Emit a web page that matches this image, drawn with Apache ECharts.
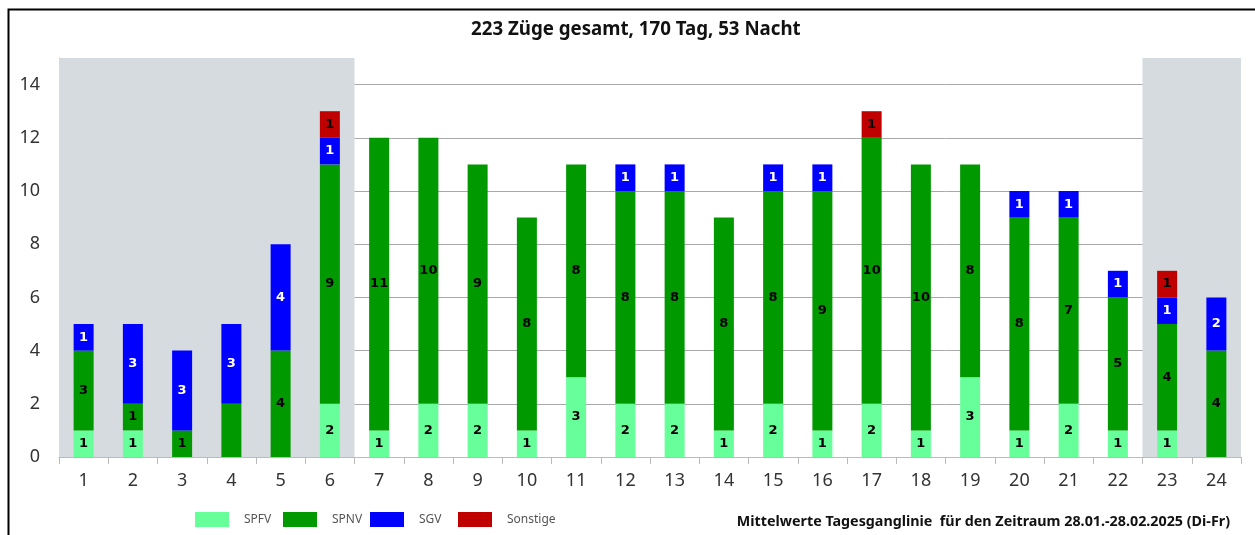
<!DOCTYPE html>
<html><head><meta charset="utf-8">
<script src="https://cdn.jsdelivr.net/npm/echarts@6/dist/echarts.min.js"></script>
<style>html,body{margin:0;padding:0;background:#fff}#c{width:1255px;height:535px}</style>
</head><body><div id="c"></div>
<script>
const hours = ['1','2','3','4','5','6','7','8','9','10','11','12','13','14','15','16','17','18','19','20','21','22','23','24'];
const spfv = [1,1,0,0,0,2,1,2,2,1,3,2,2,1,2,1,2,1,3,1,2,1,1,0];
const spnv = [3,1,1,2,4,9,11,10,9,8,8,8,8,8,8,9,10,10,8,8,7,5,4,4];
const sgv = [1,3,3,3,4,1,0,0,0,0,0,1,1,0,1,1,0,0,0,1,1,1,1,2];
const sonst = [0,0,0,0,0,1,0,0,0,0,0,0,0,0,0,0,1,0,0,0,0,0,1,0];
const seriesNames = ['SPFV','SPNV','SGV','Sonstige'];
const unlabeled = {spnv: ['4']};
const nightRanges = [['1','6'],['23','24']];
const titleText = '223 Züge gesamt, 170 Tag, 53 Nacht';
const noteText = 'Mittelwerte Tagesganglinie  für den Zeitraum 28.01.-28.02.2025 (Di-Fr)';

const font = 'Noto Sans';
function mk(vals, key) {
  return vals.map((v, i) => {
    if (v === 0) return '-';
    if (unlabeled[key] && unlabeled[key].includes(hours[i])) return {value: v, label: {show: false}};
    return v;
  });
}
function series(name, key, vals, color, labelColor) {
  return {
    name, type: 'bar', stack: 'all', barWidth: 20,
    data: mk(vals, key),
    itemStyle: {color},
    label: {show: true, position: 'inside', color: labelColor, fontWeight: 'bold', fontSize: 13, fontFamily: 'DejaVu Sans'},
    emphasis: {disabled: true}
  };
}
const s1 = series(seriesNames[0], 'spfv', spfv, '#66FF99', '#000');
s1.markArea = {silent: true, itemStyle: {color: '#d6dbe0'}, data: nightRanges.map(r => [{xAxis: r[0]}, {xAxis: r[1]}])};
const chart = echarts.init(document.getElementById('c'));
const splitColors = ['#a9a9a9','#a9a9a9','#a9a9a9','#a9a9a9','#a9a9a9','#a9a9a9','#a9a9a9','#a9a9a9','rgba(0,0,0,0)'];
const legendLefts = [190, 278, 365, 453];
chart.setOption({
  animation: false,
  title: {text: titleText, left: 466, top: 15, textStyle: {fontFamily: font, fontSize: 18.7, fontWeight: 'bold', color: '#111'}},
  grid: {left: 59, right: 14, top: 58, bottom: 78},
  legend: seriesNames.map((n, i) => ({
    data: [n], left: legendLefts[i], bottom: 3, itemWidth: 34, itemHeight: 15,
    textStyle: {fontFamily: font, fontSize: 12, color: '#555', padding: [0,0,0,10]}, icon: 'rect'
  })),
  xAxis: {
    type: 'category', data: hours,
    axisLine: {lineStyle: {color: '#bbb'}},
    axisTick: {show: true, length: 7, lineStyle: {color: '#bbb'}},
    axisLabel: {fontFamily: font, fontSize: 18, color: '#333', margin: 15}
  },
  yAxis: {
    type: 'value', min: 0, max: 15, interval: 2,
    axisLine: {show: true, lineStyle: {color: '#bbb'}},
    axisTick: {show: false},
    axisLabel: {fontFamily: font, fontSize: 18, color: '#333', margin: 19, showMaxLabel: false},
    splitLine: {lineStyle: {color: splitColors, width: 1}}
  },
  graphic: [
    {type: 'rect', left: 6, top: 7, shape: {width: 1260, height: 540}, style: {fill: 'none', stroke: '#000', lineWidth: 2}, silent: true},
    {type: 'text', right: 25, bottom: 6, style: {text: noteText, fontFamily: font, fontSize: 14.3, fontWeight: 'bold', fill: '#111'}}
  ],
  series: [
    s1,
    series(seriesNames[1], 'spnv', spnv, '#009900', '#000'),
    series(seriesNames[2], 'sgv', sgv, '#0000FF', '#fff'),
    series(seriesNames[3], 'sonst', sonst, '#C00000', '#000')
  ]
});
</script></body></html>
